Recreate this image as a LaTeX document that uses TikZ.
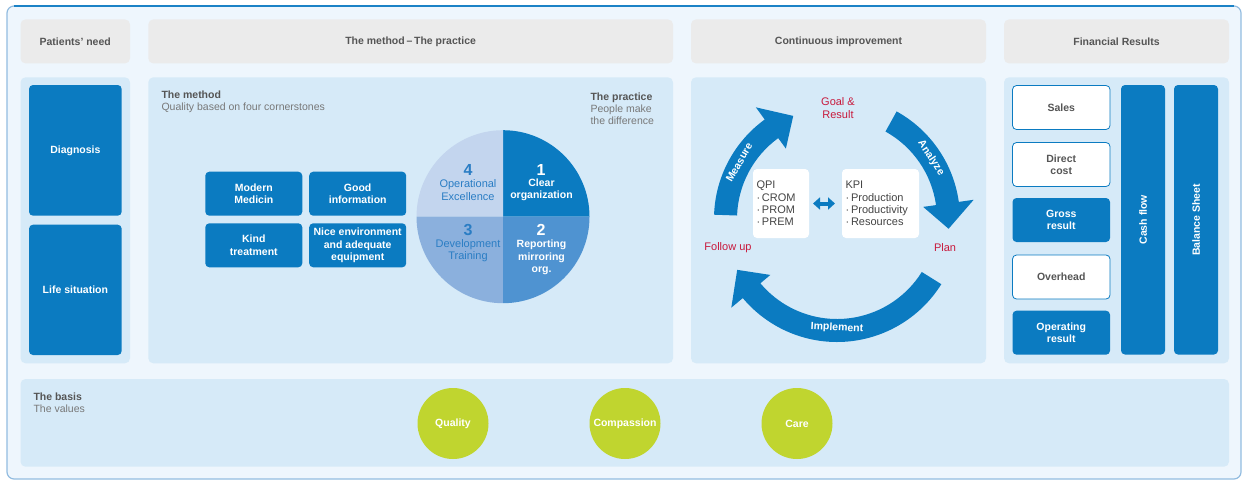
\documentclass[tikz,border=0pt]{standalone}
\usepackage{graphicx}
\usepackage{fontspec}
\setmainfont{Liberation Sans}
\usetikzlibrary{arrows.meta}
\definecolor{cblue}{HTML}{0B7BC1}
\definecolor{panelc}{HTML}{D6EAF8}
\definecolor{bgc}{HTML}{EEF6FD}
\definecolor{hdrc}{HTML}{EBEBEB}
\definecolor{framec}{HTML}{92BCE0}
\definecolor{frametop}{HTML}{1B82C6}
\definecolor{greenc}{HTML}{C0D52F}
\definecolor{redc}{HTML}{C8193C}
\definecolor{qtwo}{HTML}{4F93D1}
\definecolor{qthree}{HTML}{8BB0DD}
\definecolor{qfour}{HTML}{C3D5EE}
\definecolor{qtxt}{HTML}{2A7DC4}
\definecolor{txtc}{HTML}{555555}
\definecolor{subc}{HTML}{787878}
\definecolor{kpic}{HTML}{444444}
\begin{document}
\begin{tikzpicture}[x=1pt,y=-1pt,
  every node/.style={inner sep=0pt, outer sep=0pt},
  fb/.style={font=\fontsize{10.5pt}{12.5pt}\selectfont\bfseries},
  fr/.style={font=\fontsize{10.5pt}{12pt}\selectfont},
  hdr/.style={fill=hdrc, rounded corners=5pt, minimum height=44pt, fb, text=txtc},
  panel/.style={fill=panelc, rounded corners=5pt, minimum height=286pt},
  bluebox/.style={fill=cblue, rounded corners=4pt, fb, text=white, align=center},
  whitebox/.style={fill=white, draw=cblue, line width=0.8pt, rounded corners=4pt, fb, text=txtc, align=center},
  mbox/.style={bluebox, minimum width=97pt, minimum height=44pt},
  fbox/.style={minimum width=97.5pt, minimum height=44pt},
  num/.style={font=\fontsize{16pt}{16pt}\selectfont\bfseries},
  piew/.style={font=\fontsize{10.5pt}{12.2pt}\selectfont\bfseries, text=white, align=center},
  pieb/.style={font=\fontsize{11pt}{12.2pt}\selectfont, text=qtxt, align=center},
  redlbl/.style={font=\fontsize{11pt}{13pt}\selectfont, text=redc, align=center},
  kbox/.style={fill=white, rounded corners=4pt, minimum height=69pt, inner xsep=3.5pt, align=left,
    font=\fontsize{11pt}{12.3pt}\selectfont, text=kpic},
  arrowlbl/.style={fb, text=white},
  valc/.style={circle, fill=greenc, minimum size=71pt, fb, text=white},
  titlec/.style={anchor=west, align=left, fr, text=subc}
]
\useasboundingbox (0,0) rectangle (1247,488);
% frame
\draw[fill=bgc, draw=framec, line width=1.2pt, rounded corners=7pt] (7,6) rectangle (1241,479);
\draw[frametop, line width=1.2pt] (14,6) -- (1234,6);
% headers
\node[hdr, minimum width=109.5pt] (hp) at (75.25,41.4) {Patients’ need};
\node[hdr, minimum width=524.7pt] (hm) at (410.65,41.4) {The method\,–\,The practice};
\node[hdr, minimum width=295pt] (hc) at (838.5,41.4) {Continuous improvement};
\node[hdr, minimum width=225pt] (hf) at (1116.5,41.4) {Financial Results};
% panels
\node[panel, minimum width=109.5pt] (pp) at (75.25,220.3) {};
\node[panel, minimum width=524.7pt] (pm) at (410.65,220.3) {};
\node[panel, minimum width=295pt] (pc) at (838.5,220.3) {};
\node[panel, minimum width=225pt] (pf) at (1116.5,220.3) {};
\node[fill=panelc, rounded corners=5pt, minimum width=1208.5pt, minimum height=87.7pt] (pb) at (624.75,422.85) {};
% patients' need
\node[bluebox, minimum width=92.7pt, minimum height=130.7pt] (diag) at (75.35,150.35) {Diagnosis};
\node[bluebox, minimum width=92.7pt, minimum height=130.3pt] (life) at (75.35,289.85) {Life situation};
% method
\node[titlec] (tm) at (161.5,102) {\textbf{\textcolor{txtc}{The method}}\\Quality based on four cornerstones};
\node[titlec] (tp) at (590.5,108.5) {\textbf{\textcolor{txtc}{The practice}}\\People make\\the difference};
\node[mbox] (mm) at (253.8,193.7) {Modern\\Medicin};
\node[mbox] (gi) at (357.7,193.7) {Good\\information};
\node[mbox] (kt) at (253.8,245.3) {Kind\\treatment};
\node[mbox] (ne) at (357.7,245.3) {Nice environment\\and adequate\\equipment};
% pie
\begin{scope}[shift={(503,216.7)}, y=1pt]
  \fill[cblue] (0,0) -- (0:86.5) arc[start angle=0, end angle=90, radius=86.5] -- cycle;
  \fill[qfour] (0,0) -- (90:86.5) arc[start angle=90, end angle=180, radius=86.5] -- cycle;
  \fill[qthree] (0,0) -- (180:86.5) arc[start angle=180, end angle=270, radius=86.5] -- cycle;
  \fill[qtwo] (0,0) -- (270:86.5) arc[start angle=270, end angle=360, radius=86.5] -- cycle;
\end{scope}
\node[num, text=white] (n1) at (541,170) {1};
\node[piew] (l1) at (541.5,190) {Clear\\organization};
\node[num, text=white] (n2) at (541,230) {2};
\node[piew] (l2) at (541.5,257.5) {Reporting\\mirroring\\org.};
\node[num, text=qtxt] (n3) at (468,230) {3};
\node[pieb] (l3) at (468,251) {Development\\Training};
\node[num, text=qtxt] (n4) at (468,170) {4};
\node[pieb] (l4) at (468,190) {Operational\\Excellence};
% continuous improvement
\begin{scope}[shift={(837,219)}, y=1pt]
  \fill[cblue] (178:123) arc[start angle=178, end angle=126, radius=123] -- (126:138) -- (113:112)
     -- (126:87) -- (126:100) arc[start angle=126, end angle=178, radius=100] -- cycle;
  \fill[cblue] (61:123) arc[start angle=61, end angle=8, radius=123] -- (8:138) -- (-5:112)
     -- (8:87) -- (8:100) arc[start angle=8, end angle=61, radius=100] -- cycle;
  \fill[cblue] (-32:123) arc[start angle=-32, end angle=-140, radius=123] -- (-140:138) -- (-153:112)
     -- (-140:87) -- (-140:100) arc[start angle=-140, end angle=-32, radius=100] -- cycle;
  \node[arrowlbl, rotate=60] (lmeas) at (150:113) {Measure};
  \node[arrowlbl, rotate=-57] (lana) at (33:112) {Analyze};
  \node[arrowlbl, rotate=-3] (limp) at (-90:109) {Implement};
\end{scope}
\node[redlbl] (goal) at (838,108) {Goal \&\\Result};
\node[redlbl] (fu) at (728,248) {Follow up};
\node[redlbl] (plan) at (945,248) {Plan};
\node[kbox, text width=49pt] (qpi) at (781,203.5) {QPI\\·\,CROM\\·\,PROM\\·\,PREM};
\node[kbox, text width=70pt] (kpi) at (880.5,203.5) {KPI\\·\,Production\\·\,Productivity\\·\,Resources};
\draw[cblue, line width=4pt, {Triangle[width=12pt,length=7pt]}-{Triangle[width=12pt,length=7pt]},
  shorten <=4pt, shorten >=7pt] (qpi.east) -- (kpi.west);
% financial
\node[whitebox, fbox] (sales) at (1061.25,107.5) {Sales};
\node[whitebox, fbox] (direct) at (1061.25,164.5) {Direct\\cost};
\node[bluebox, fbox] (gross) at (1061.25,220) {Gross\\result};
\node[whitebox, fbox] (over) at (1061.25,277) {Overhead};
\node[bluebox, fbox] (oper) at (1061.25,332.7) {Operating\\result};
\node[bluebox, minimum width=44pt, minimum height=269.5pt] (cash) at (1143,219.75) {\rotatebox{90}{Cash flow}};
\node[bluebox, minimum width=44pt, minimum height=269.5pt] (bal) at (1196,219.75) {\rotatebox{90}{Balance Sheet}};
% basis
\node[titlec] (tb) at (33.5,403) {\textbf{\textcolor{txtc}{The basis}}\\The values};
\node[valc] (qual) at (453,423.5) {Quality};
\node[valc] (comp) at (625,423.5) {Compassion};
\node[valc] (care) at (797,423.5) {Care};
\end{tikzpicture}
\end{document}
